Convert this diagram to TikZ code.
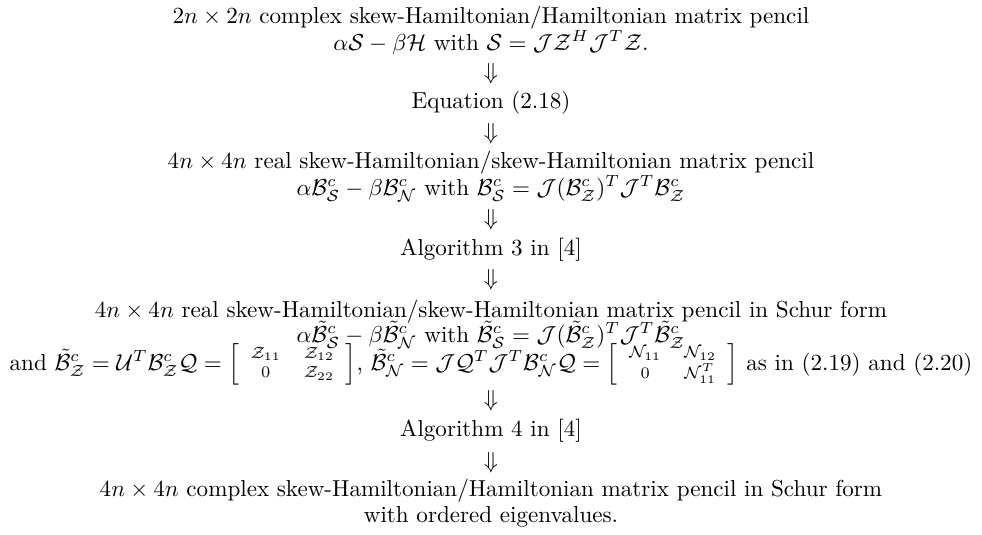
\documentclass[tikz,border=0pt]{standalone}
\usepackage{amsmath}
\tikzset{every node/.style={inner sep=0pt},
  stage/.style={anchor=base},
  darrow/.style={anchor=base}}
\newcommand{\Bcm}[1]{\mathcal{B}^c_{\mathcal{#1}}}
\newcommand{\Btm}[1]{\tilde{\mathcal{B}}^c_{\mathcal{#1}}}
\newcommand{\blockmat}[4]{\left[\setlength{\arraycolsep}{5pt}\renewcommand{\arraystretch}{.7}%
  \begin{array}{cc}\scriptstyle #1&\scriptstyle #2\\ \scriptstyle #3&\scriptstyle #4\end{array}\right]}
\begin{document}
\begin{tikzpicture}[x=.433pt,y=.433pt]
\useasboundingbox (0,0) rectangle (982,-534);
% complex pencil
\node[stage] (src1) at (491,-23) {$2n\times 2n$ complex skew-Hamiltonian/Hamiltonian matrix pencil};
\node[stage] (src2) at (491,-50) {$\alpha\mathcal{S}-\beta\mathcal{H}$ with $\mathcal{S}=\mathcal{J}\mathcal{Z}^H\mathcal{J}^T\mathcal{Z}$.};
\node[darrow] (d1) at (491,-79) {$\Downarrow$};
\node[stage] (eqn) at (491,-108) {Equation (2.18)};
\node[darrow] (d2) at (491,-139) {$\Downarrow$};
% real pencil
\node[stage] (real1) at (491,-168) {$4n\times 4n$ real skew-Hamiltonian/skew-Hamiltonian matrix pencil};
\node[stage] (real2) at (491,-195) {$\alpha\Bcm{S}-\beta\Bcm{N}$ with $\Bcm{S}=\mathcal{J}(\Bcm{Z})^T\mathcal{J}^T\Bcm{Z}$};
\node[darrow] (d3) at (491,-225.5) {$\Downarrow$};
\node[stage] (alg3) at (491,-255) {Algorithm 3 in [4]};
\node[darrow] (d4) at (491,-285.5) {$\Downarrow$};
% Schur form
\node[stage] (schur1) at (491,-317) {$4n\times 4n$ real skew-Hamiltonian/skew-Hamiltonian matrix pencil in Schur form};
\node[stage] (schur2) at (491,-342) {$\alpha\Btm{S}-\beta\Btm{N}$ with $\Btm{S}=\mathcal{J}(\Btm{Z})^T\mathcal{J}^T\Btm{Z}$};
\node[stage] (schur3) at (491,-370) {and $\Btm{Z}=\mathcal{U}^T\Bcm{Z}\mathcal{Q}=\blockmat{\mathcal{Z}_{11}}{\mathcal{Z}_{12}}{0}{\mathcal{Z}_{22}}$, $\Btm{N}=\mathcal{J}\mathcal{Q}^T\mathcal{J}^T\Bcm{N}\mathcal{Q}=\blockmat{\mathcal{N}_{11}}{\mathcal{N}_{12}}{0}{\mathcal{N}_{11}^T}$ as in (2.19) and (2.20)};
\node[darrow] (d5) at (491,-406.5) {$\Downarrow$};
\node[stage] (alg4) at (491,-436) {Algorithm 4 in [4]};
\node[darrow] (d6) at (491,-468.5) {$\Downarrow$};
% ordered result
\node[stage] (out1) at (491,-496) {$4n\times 4n$ complex skew-Hamiltonian/Hamiltonian matrix pencil in Schur form};
\node[stage] (out2) at (491,-522) {with ordered eigenvalues.};
\end{tikzpicture}
\end{document}
